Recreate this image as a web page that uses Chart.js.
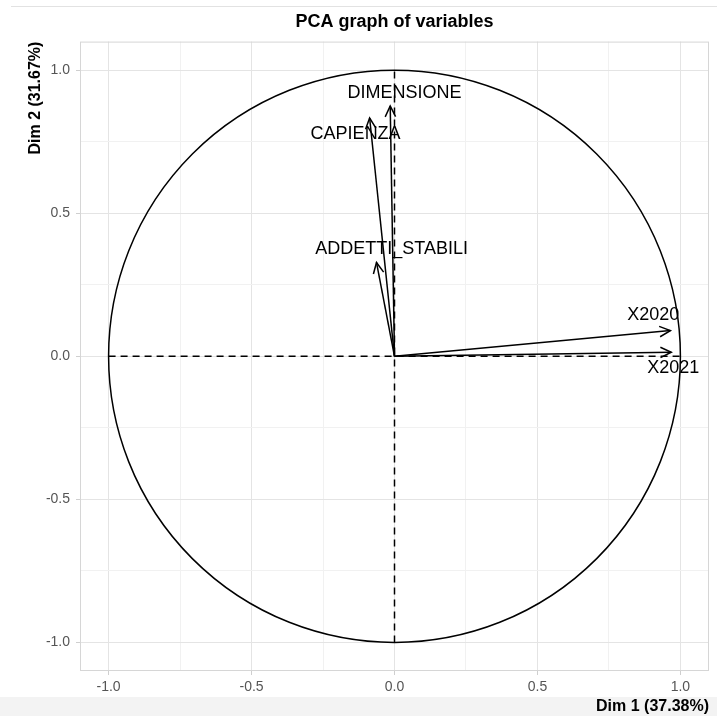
<!DOCTYPE html>
<html>
<head>
<meta charset="utf-8">
<script src="https://cdn.jsdelivr.net/npm/chart.js@4/dist/chart.umd.min.js"></script>
<style>
  html, body { margin: 0; padding: 0; width: 717px; height: 716px; overflow: hidden; background: #fff; }
  #topline { position: absolute; left: 11px; top: 6px; width: 706px; height: 1px; background: #e2e2e2; }
  #band { position: absolute; left: 0; top: 697px; width: 717px; height: 19px; background: #f3f3f3; }
  #wrap { position: absolute; left: 0; top: 0; width: 789px; height: 716px; }
</style>
</head>
<body>
<div id="topline"></div>
<div id="band"></div>
<div id="wrap"><canvas id="grafica" width="789" height="716"></canvas></div>
<script>
// variables del PCA: punta de cada flecha (Dim 1, Dim 2)
const variables = ['DIMENSIONE', 'CAPIENZA', 'ADDETTI_STABILI', 'X2020', 'X2021'];
const dim1 = [-0.015, -0.087, -0.063, 0.965, 0.968];
const dim2 = [0.875, 0.833, 0.328, 0.090, 0.014];

// donde va el texto de cada variable
const etiquetaX = [0.035, -0.136, -0.010, 0.905, 0.975];
const etiquetaY = [0.920, 0.777, 0.376, 0.143, -0.042];

// ejes
const ticksMayores = [-1, -0.5, 0, 0.5, 1];
const ticksMenores = [-0.75, -0.25, 0.25, 0.75];
const etiquetasTicks = ['-1.0', '-0.5', '0.0', '0.5', '1.0'];
const todosTicks = [...ticksMayores, ...ticksMenores].sort((a, b) => a - b);

const fuente = '"Liberation Sans", Arial, Helvetica, sans-serif';

function esMayor(v) {
  return ticksMayores.some(m => Math.abs(m - v) < 1e-9);
}

function configEje(titulo, vertical) {
  return {
    type: 'linear',
    min: -1.1,
    max: 1.1,
    afterBuildTicks: s => { s.ticks = todosTicks.map(v => ({ value: v })); },
    afterFit: s => { if (vertical) s.width = 80; else s.height = 45; },
    ticks: {
      autoSkip: false,
      padding: vertical ? 6 : 4,
      color: '#555',
      font: { family: fuente, size: 14 },
      callback: v => {
        const i = ticksMayores.findIndex(m => Math.abs(m - v) < 1e-9);
        return i >= 0 ? etiquetasTicks[i] : '';
      }
    },
    grid: {
      color: c => esMayor(c.tick.value) ? '#e4e4e4' : '#f1f1f1',
      tickColor: c => esMayor(c.tick.value) ? '#cfcfcf' : 'rgba(0,0,0,0)',
      tickLength: 4,
      lineWidth: 1
    },
    border: { display: false },
    title: {
      display: true,
      text: titulo,
      align: 'end',
      color: '#000',
      font: { family: fuente, size: 16, weight: 'bold' },
      padding: vertical ? { top: 26, bottom: 0 } : { top: 0, bottom: 0 }
    }
  };
}

// flechas como lineas desde el origen
const datasetsFlechas = variables.map((nombre, i) => ({
  label: nombre,
  data: [{ x: 0, y: 0 }, { x: dim1[i], y: dim2[i] }],
  showLine: true,
  borderColor: '#000',
  borderWidth: 1.5,
  pointRadius: 0
}));

const datasetsEjes = [
  { label: 'h', data: [{ x: -1, y: 0 }, { x: 1, y: 0 }] },
  { label: 'v', data: [{ x: 0, y: -1 }, { x: 0, y: 1 }] }
].map(d => ({ ...d, showLine: true, borderColor: '#000', borderWidth: 1.5, borderDash: [7, 5], pointRadius: 0 }));

const pluginPCA = {
  id: 'pca',
  beforeDatasetsDraw(chart) {
    const { ctx, scales: { x, y } } = chart;
    const cx = x.getPixelForValue(0), cy = y.getPixelForValue(0);
    const rx = x.getPixelForValue(1) - cx, ry = cy - y.getPixelForValue(1);
    ctx.save();
    ctx.strokeStyle = '#000';
    ctx.lineWidth = 1.5;
    ctx.beginPath();
    ctx.ellipse(cx, cy, rx, ry, 0, 0, Math.PI * 2);
    ctx.stroke();
    ctx.restore();
  },
  afterDatasetsDraw(chart) {
    const { ctx, chartArea: a, scales: { x, y } } = chart;
    const x0 = x.getPixelForValue(0), y0 = y.getPixelForValue(0);
    ctx.save();
    ctx.strokeStyle = '#000';
    ctx.lineWidth = 1.5;
    variables.forEach((nombre, i) => {
      const px = x.getPixelForValue(dim1[i]), py = y.getPixelForValue(dim2[i]);
      const ang = Math.atan2(py - y0, px - x0);
      const largo = 12, abre = Math.PI / 7;
      ctx.beginPath();
      ctx.moveTo(px - largo * Math.cos(ang - abre), py - largo * Math.sin(ang - abre));
      ctx.lineTo(px, py);
      ctx.lineTo(px - largo * Math.cos(ang + abre), py - largo * Math.sin(ang + abre));
      ctx.stroke();
    });
    // textos de las variables
    ctx.fillStyle = '#000';
    ctx.font = '18px ' + fuente;
    ctx.textAlign = 'center';
    ctx.textBaseline = 'middle';
    variables.forEach((nombre, i) => {
      ctx.fillText(nombre, x.getPixelForValue(etiquetaX[i]), y.getPixelForValue(etiquetaY[i]));
    });
    // borde del panel
    ctx.strokeStyle = '#d6d6d6';
    ctx.lineWidth = 1;
    ctx.strokeRect(a.left + 0.5, a.top + 0.5, a.right - a.left - 1, a.bottom - a.top - 1);
    ctx.restore();
  }
};

new Chart(document.getElementById('grafica'), {
  type: 'scatter',
  data: { datasets: [...datasetsEjes, ...datasetsFlechas] },
  options: {
    responsive: false,
    animation: false,
    layout: { padding: 0 },
    plugins: {
      legend: { display: false },
      tooltip: { enabled: false },
      title: {
        display: true,
        text: 'PCA graph of variables',
        color: '#000',
        font: { family: fuente, size: 18, weight: 'bold', lineHeight: 1.2 },
        padding: { top: 11, bottom: 9 }
      }
    },
    scales: {
      x: configEje('Dim 1 (37.38%)', false),
      y: configEje('Dim 2 (31.67%)', true),
      // margen derecho invisible para que el título quede centrado sobre el panel
      margen: {
        type: 'linear',
        position: 'right',
        afterFit: s => { s.width = 80; },
        ticks: { display: false },
        grid: { display: false },
        border: { display: false }
      }
    }
  },
  plugins: [pluginPCA]
});
</script>
</body>
</html>
